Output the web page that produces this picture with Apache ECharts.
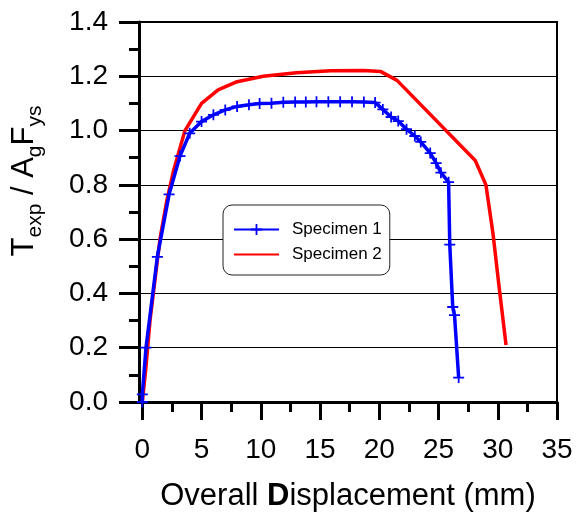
<!DOCTYPE html>
<html>
<head>
<meta charset="utf-8">
<script src="https://cdn.jsdelivr.net/npm/echarts@6/dist/echarts.min.js"></script>
<style>html,body{margin:0;padding:0;background:#fff}#chart{width:576px;height:512px}</style>
</head>
<body>
<div id="chart"></div>
<script>
var spec1X = [0, 0, 0.31, 1.27, 2.26, 3.18, 4.0, 5.0, 6.0, 7.0, 8.0, 9.0, 9.9, 10.9, 11.9, 12.9, 13.8, 14.7, 15.7, 16.7, 17.7, 18.7, 19.65,
    20.3, 21.0, 21.6, 22.3, 23.0, 23.5, 24.3, 24.8, 25.2, 25.85, 25.95, 26.2, 26.35, 26.7];
var spec1Y = [0, 0.028, 0.20, 0.535, 0.765, 0.906, 0.99, 1.033, 1.058, 1.076, 1.089, 1.095, 1.100, 1.101, 1.104, 1.105, 1.105, 1.106, 1.106, 1.106, 1.106, 1.105, 1.103,
    1.078, 1.050, 1.035, 1.005, 0.980, 0.958, 0.917, 0.880, 0.845, 0.810, 0.580, 0.350, 0.320, 0.090];
var spec2X = [0, 0.31, 0.65, 1.07, 1.49, 2.06, 2.62, 3.6, 5.0, 6.4, 8.0, 10.2, 13.0, 15.9, 18.7, 20.1, 21.5, 28.1, 29.0, 29.6, 30.07, 30.7];
var spec2Y = [0, 0.13, 0.30, 0.45, 0.60, 0.74, 0.85, 1.00, 1.10, 1.15, 1.18, 1.20, 1.213, 1.22, 1.221, 1.218, 1.185, 0.89, 0.80, 0.62, 0.44, 0.21];
var xLabels = [0, 5, 10, 15, 20, 25, 30, 35];
var xMinor = [2.5, 7.5, 12.5, 17.5, 22.5, 27.5, 32.5];

function pairs(xs, ys) {
    return xs.map(function (x, i) { return [x, ys[i]]; });
}

var font = 'Liberation Sans';
var cross = 'path://M4.2,0H5.8V4.2H10V5.8H5.8V10H4.2V5.8H0V4.2H4.2Z';
var mychart = echarts.init(document.getElementById('chart'));
var option = {
    animation: false,
    backgroundColor: '#fff',
    grid: {
        left: 139, right: 19, top: 22, bottom: 110,
        outerBoundsMode: 'none',
        show: true,
        borderColor: '#000',
        borderWidth: 2,
        backgroundColor: 'transparent'
    },
    legend: {
        data: [
            { name: 'Specimen 1' },
            // line only, no round mark for specimen 2
            { name: 'Specimen 2', itemStyle: { color: 'rgba(0,0,0,0)', borderWidth: 0 } }
        ],
        orient: 'vertical',
        left: 223,
        top: 205,
        itemWidth: 45,
        itemHeight: 14,
        itemGap: 8,
        padding: [16, 8, 12, 10],
        borderColor: '#222',
        borderWidth: 1,
        borderRadius: 9,
        backgroundColor: '#fff',
        textStyle: { fontFamily: font, fontSize: 17, color: '#000', padding: [0, 0, 0, 8] }
    },
    graphic: [{
        type: 'text',
        x: 24,
        y: 181,
        rotation: Math.PI / 2,
        style: {
            text: '{m|T}{s|exp}{m| / A}{s|g}{m|F}{s|ys}',
            fill: '#000',
            align: 'center',
            verticalAlign: 'middle',
            rich: {
                m: { fontFamily: font, fontSize: 31, lineHeight: 44, verticalAlign: 'middle', fill: '#000' },
                s: { fontFamily: font, fontSize: 21, lineHeight: 20, verticalAlign: 'bottom', fill: '#000' }
            }
        }
    }],
    xAxis: [{
        type: 'value',
        min: -0.28,
        max: 35,
        name: '{n|Overall }{b|D}{n|isplacement (mm)}',
        nameLocation: 'middle',
        nameGap: 79,
        nameTextStyle: {
            rich: {
                n: { fontFamily: font, fontSize: 31, color: '#000' },
                b: { fontFamily: font, fontSize: 31, color: '#000', fontWeight: 'bold' }
            }
        },
        axisLine: { onZero: false, lineStyle: { color: '#000', width: 3 } },
        axisTick: { customValues: xLabels, length: 18, lineStyle: { color: '#000', width: 3 } },
        axisLabel: { customValues: xLabels, fontFamily: font, fontSize: 28, color: '#000', margin: 34 },
        splitLine: { show: false }
    }, {
        type: 'value',
        min: -0.28,
        max: 35,
        position: 'bottom',
        axisLine: { show: false, onZero: false },
        axisTick: { customValues: xMinor, length: 10, lineStyle: { color: '#000', width: 3 } },
        axisLabel: { show: false },
        splitLine: { show: false }
    }],
    yAxis: {
        type: 'value',
        min: 0,
        max: 1.4,
        interval: 0.2,
        axisLine: { show: true, onZero: false, lineStyle: { color: '#000', width: 3 } },
        axisTick: { show: true, length: 20, lineStyle: { color: '#000', width: 3 } },
        minorTick: { show: true, splitNumber: 2, length: 10, lineStyle: { color: '#000', width: 3 } },
        axisLabel: {
            fontFamily: font, fontSize: 28, color: '#000', margin: 31,
            formatter: function (v) { return v.toFixed(1); }
        },
        splitLine: { show: true, lineStyle: { color: '#000', width: 1 } }
    },
    series: [
        {
            name: 'Specimen 1',
            type: 'line',
            data: pairs(spec1X, spec1Y),
            symbol: cross,
            symbolSize: 11,
            showAllSymbol: true,
            lineStyle: { color: '#0000ff', width: 3.5 },
            itemStyle: { color: '#0000ff' },
            z: 3
        },
        {
            name: 'Specimen 2',
            type: 'line',
            data: pairs(spec2X, spec2Y),
            symbol: 'none',
            lineStyle: { color: '#ff0000', width: 3.5 },
            itemStyle: { color: '#ff0000' },
            z: 2
        }
    ]
};
mychart.setOption(option);
</script>
</body>
</html>
